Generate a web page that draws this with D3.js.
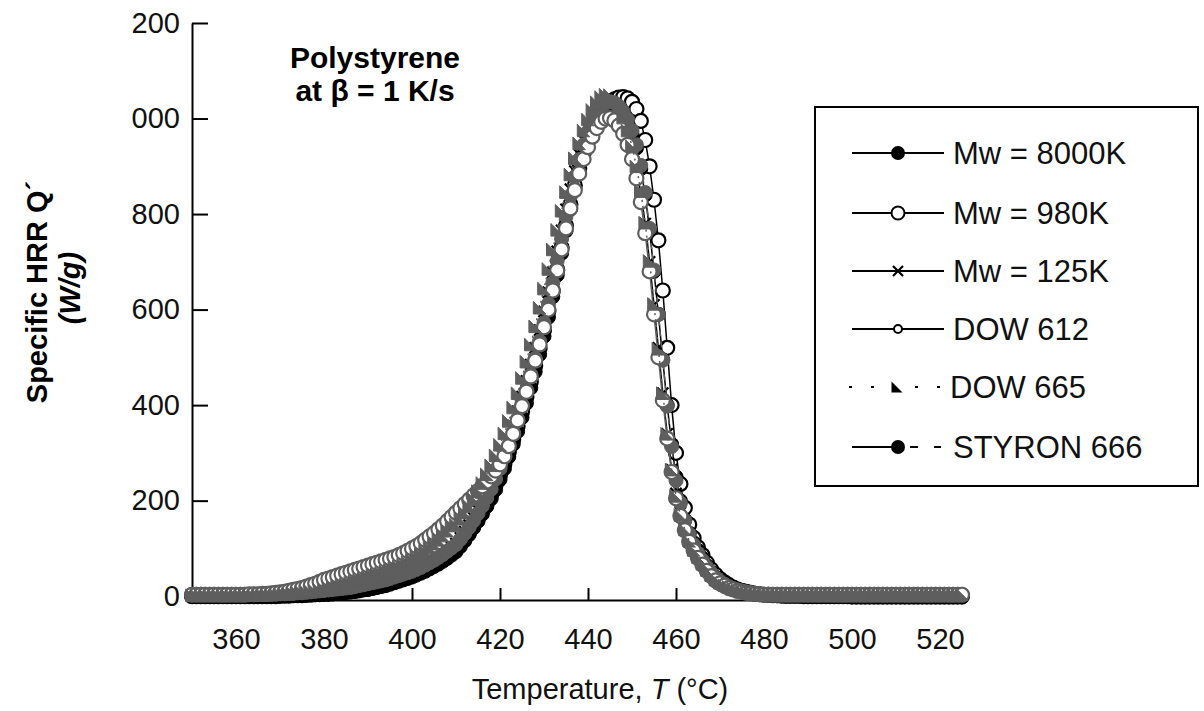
<!DOCTYPE html>
<html><head><meta charset="utf-8">
<script src="https://cdn.jsdelivr.net/npm/d3@7"></script>
<style>body{margin:0;background:#fff} svg{display:block} text{font-family:"Liberation Sans",Arial,Helvetica,sans-serif}</style>
</head><body><svg id="c" width="1204" height="711"></svg>
<script>
const temps = [
350,351,352,353,354,355,356,357,358,359,
360,361,362,363,364,365,366,367,368,369,
370,371,372,373,374,375,376,377,378,379,
380,381,382,383,384,385,386,387,388,389,
390,391,392,393,394,395,396,397,398,399,
400,401,402,403,404,405,406,407,408,409,
410,411,412,413,414,415,416,417,418,419,
420,421,422,423,424,425,426,427,428,429,
430,431,432,433,434,435,436,437,438,439,
440,441,442,443,444,445,446,447,448,449,
450,451,452,453,454,455,456,457,458,459,
460,461,462,463,464,465,466,467,468,469,
470,471,472,473,474,475,476,477,478,479,
480,481,482,483,484,485,486,487,488,489,
490,491,492,493,494,495,496,497,498,499,
500,501,502,503,504,505,506,507,508,509,
510,511,512,513,514,515,516,517,518,519,
520,521,522,523,524,525];

const qMw8000K = [
0,0,0,0,0,0,0,0,0,0,
0,0,0,0,0,0,0,0,0,0,
0,1,1,1,2,2,2,3,3,4,
4,5,5,6,7,8,9,10,11,13,
14,16,18,20,22,25,28,31,34,37,
40,44,48,52,57,62,67,73,79,86,
93,104,116,129,143,157,172,188,204,223,
244,267,292,318,345,374,404,436,470,506,
544,584,627,672,718,765,810,852,890,925,
955,980,1000,1013,1021,1025,1023,1017,1006,990,
968,938,895,840,765,680,590,495,400,318,
250,200,160,132,112,96,80,64,50,40,
32,26,21,17,14,11,9,7,5,4,
3,2,2,1,1,0,0,0,0,0,
0,0,0,0,0,0,0,0,0,0,
-2,-2,-2,-2,-2,-2,-2,-2,-2,-2,
-2,-2,-2,-2,-2,-2,-2,-2,-2,-2,
-2,-2,-2,-2,-2,-2];

const qMw980K = [
0,0,0,0,0,0,0,0,0,0,
0,0,0,0,0,0,0,0,0,0,
1,1,1,2,2,2,3,3,4,4,
5,5,6,7,8,9,10,11,13,15,
16,18,20,23,25,28,31,34,37,41,
44,48,52,57,62,67,73,79,86,93,
100,110,122,135,149,164,180,196,213,233,
254,277,302,328,356,386,417,449,483,519,
557,597,640,684,730,776,820,860,896,928,
955,978,997,1012,1024,1033,1040,1044,1045,1042,
1035,1020,995,955,900,830,745,640,520,400,
300,235,185,150,122,102,86,70,56,45,
36,29,23,18,14,11,9,7,5,4,
3,3,2,2,1,1,1,1,1,0,
0,0,0,0,0,0,0,0,0,0,
0,0,0,0,0,0,0,0,0,0,
0,0,0,0,0,0,0,0,0,0,
0,0,0,0,0,0];

const qMw125K = [
1,1,1,1,1,1,1,1,1,1,
1,1,1,1,1,1,1,2,2,2,
2,2,3,3,3,4,4,5,5,6,
6,7,8,9,10,11,12,14,15,17,
19,21,23,25,28,31,34,37,41,45,
49,53,58,63,68,74,80,87,94,102,
110,122,135,149,164,180,197,215,234,255,
278,303,329,357,387,418,451,485,520,557,
596,636,678,722,766,810,852,890,925,955,
980,1000,1015,1025,1030,1028,1020,1006,988,965,
935,895,845,780,700,610,520,425,340,265,
215,175,145,120,100,85,70,56,44,35,
28,23,18,15,12,10,8,6,5,4,
3,3,2,2,2,2,2,2,2,2,
2,2,2,2,2,2,2,2,2,2,
2,2,2,2,2,2,2,2,2,2,
2,2,2,2,2,2,2,2,2,2,
2,2,2,2,2,2];

const qDow612 = [
3,3,3,3,3,3,3,3,3,3,
3,3,3,4,4,4,5,5,6,7,
8,9,11,13,15,17,20,23,26,30,
34,37,40,43,46,49,52,55,58,61,
64,67,70,73,76,79,82,86,90,95,
100,105,111,118,125,132,140,148,157,166,
175,184,193,202,211,220,230,240,251,263,
276,293,314,340,368,398,428,460,493,527,
563,600,640,682,726,770,812,850,885,915,
940,962,980,993,1000,1001,996,985,968,945,
915,875,825,760,680,590,500,410,330,260,
205,168,138,114,96,80,66,53,42,33,
27,22,17,14,11,9,7,6,5,4,
3,3,3,3,3,3,3,3,3,3,
3,3,3,3,3,3,3,3,3,3,
3,3,3,3,3,3,3,3,3,3,
3,3,3,3,3,3,3,3,3,3,
3,3,3,3,3,3];

const qDow665 = [
2,2,2,2,2,2,2,2,2,2,
2,2,2,2,2,3,3,3,3,4,
4,5,5,6,7,8,9,10,11,13,
15,17,19,21,23,25,28,31,34,37,
40,43,46,49,52,55,58,62,66,71,
76,82,88,95,102,110,118,127,137,148,
150,162,175,189,204,220,237,255,274,295,
317,341,367,395,425,457,491,527,565,604,
644,685,726,767,807,846,883,917,948,975,
998,1018,1034,1045,1050,1049,1040,1024,1002,975,
942,900,848,782,702,612,518,425,340,265,
210,170,140,116,97,82,68,55,44,35,
28,23,19,16,13,11,9,8,7,6,
5,5,4,4,4,4,4,4,4,4,
4,4,4,4,4,4,4,4,4,4,
4,4,4,4,4,4,4,4,4,4,
4,4,4,4,4,4,4,4,4,4,
4,4,4,4,4,4];

const qStyron666 = [
4,4,4,4,4,4,4,4,4,4,
4,4,4,4,4,4,4,5,5,5,
5,5,6,6,7,7,8,9,10,11,
12,13,14,15,16,17,18,20,22,24,
26,28,30,32,34,37,40,43,46,49,
52,56,60,65,70,75,81,87,94,101,
108,119,131,144,158,173,189,206,224,245,
267,291,316,343,371,401,432,464,498,534,
572,612,656,702,748,795,838,878,914,945,
972,995,1012,1025,1032,1035,1033,1026,1014,998,
975,945,902,845,770,683,590,494,398,313,
242,195,158,130,108,90,75,61,49,39,
31,25,20,16,13,11,9,7,6,5,
4,4,4,4,4,4,4,4,4,4,
4,4,4,4,4,4,4,4,4,4,
4,4,4,4,4,4,4,4,4,4,
4,4,4,4,4,4,4,4,4,4,
4,4,4,4,4,4];

const seriesNames = ["Mw = 8000K","Mw = 980K","Mw = 125K","DOW 612","DOW 665","STYRON 666"];
const xTickValues = [360,380,400,420,440,460,480,500,520];
const yTickValues = [0,200,400,600,800,1000,1200];
const yTickLabels = ["0","200","400","600","800","000","200"];

const GRAY = "#5e5e5e";
const series = [
  {name: seriesNames[1], values: qMw980K, marker: "open", color: "#000", fill: "#fff", dash: null},
  {name: seriesNames[0], values: qMw8000K, marker: "circle", color: "#000", fill: "#000", dash: null},
  {name: seriesNames[2], values: qMw125K, marker: "x", color: "#000", fill: "none", dash: null},
  {name: seriesNames[5], values: qStyron666, marker: "circle", color: GRAY, fill: GRAY, dash: "6,5"},
  {name: seriesNames[3], values: qDow612, marker: "open", color: GRAY, fill: "#fff", dash: null},
  {name: seriesNames[4], values: qDow665, marker: "tri", color: GRAY, fill: GRAY, dash: "2,4"}
];

const svg = d3.select("#c");
const x = d3.scaleLinear().domain([350, 525]).range([192, 962]);
const y = d3.scaleLinear().domain([-8, 1200]).range([600, 23]);

const yAxis = d3.axisLeft(y).tickValues(yTickValues).tickFormat((d,i)=>yTickLabels[i])
  .tickSizeInner(-16).tickSizeOuter(0).tickPadding(12);
const gy = svg.append("g").attr("transform","translate(192,0)").call(yAxis);
const xAxis = d3.axisBottom(x).tickValues(xTickValues).tickFormat(d=>String(d))
  .tickSizeInner(-12).tickSizeOuter(0).tickPadding(28);
const gx = svg.append("g").attr("transform","translate(0,600)").call(xAxis);
[gx, gy].forEach(g=>{
  g.selectAll("path.domain").attr("stroke","#000").attr("stroke-width",2);
  g.selectAll(".tick line").attr("stroke","#000").attr("stroke-width",2);
  g.selectAll(".tick text").attr("fill","#111").style("font-size","29px").style("font-family","'Liberation Sans',Arial,sans-serif");
});

function markerPath(type, s){
  if(type==="x") return `M${-s},${-s}L${s},${s}M${-s},${s}L${s},${-s}`;
  if(type==="tri") return `M${-s},${-s}L${-s},${s}L${s},${s}Z`;
  return null;
}
function drawMarker(g, type, cx, cy, color, fill, r){
  if(type==="circle"){
    g.append("circle").attr("cx",cx).attr("cy",cy).attr("r",r).attr("fill",fill).attr("stroke",color).attr("stroke-width",1);
  } else if(type==="open"){
    g.append("circle").attr("cx",cx).attr("cy",cy).attr("r",r).attr("fill",fill).attr("stroke",color).attr("stroke-width",2.2);
  } else if(type==="x"){
    g.append("path").attr("transform",`translate(${cx},${cy})`).attr("d",markerPath("x", r*0.8)).attr("stroke",color).attr("stroke-width",2.2).attr("fill","none");
  } else if(type==="tri"){
    g.append("path").attr("transform",`translate(${cx},${cy})`).attr("d",markerPath("tri", r*0.9)).attr("fill",fill).attr("stroke",color).attr("stroke-width",1);
  }
}

const line = d3.line().x((d,i)=>x(temps[i])).y(d=>y(d));
series.forEach(s=>{
  const g = svg.append("g");
  g.append("path").datum(s.values).attr("d",line).attr("fill","none")
    .attr("stroke",s.color).attr("stroke-width",1.5).attr("stroke-dasharray",s.dash);
  s.values.forEach((v,i)=> drawMarker(g, s.marker, x(temps[i]), y(v), s.color, s.fill, 7));
});

const title = svg.append("text").attr("x",375).attr("text-anchor","middle")
  .style("font-weight","bold").style("font-size","30px").attr("fill","#000");
title.append("tspan").attr("x",375).attr("y",68).text("Polystyrene");
title.append("tspan").attr("x",375).attr("y",101).text("at β = 1 K/s");

const xl = svg.append("text").attr("x",600).attr("y",699).attr("text-anchor","middle")
  .style("font-size","29px").attr("fill","#111");
xl.append("tspan").text("Temperature, ");
xl.append("tspan").style("font-style","italic").text("T");
xl.append("tspan").text(" (°C)");

svg.append("text").attr("transform","translate(47,292) rotate(-90)").attr("text-anchor","middle")
  .style("font-weight","bold").style("font-size","29px").attr("fill","#000").text("Specific HRR Q´");
svg.append("text").attr("transform","translate(80,288) rotate(-90)").attr("text-anchor","middle")
  .style("font-weight","bold").style("font-style","italic").style("font-size","29px").attr("fill","#000").text("(W/g)");

const lg = svg.append("g");
lg.append("rect").attr("x",815).attr("y",107).attr("width",383).attr("height",379)
  .attr("fill","#fff").attr("stroke","#000").attr("stroke-width",2);
const legendY = [153,213,271,329,387,447];
const legendItems = [
  {name: seriesNames[0], marker:"circle"},
  {name: seriesNames[1], marker:"open"},
  {name: seriesNames[2], marker:"x"},
  {name: seriesNames[3], marker:"small"},
  {name: seriesNames[4], marker:"tri"},
  {name: seriesNames[5], marker:"circle"}
];
legendItems.forEach((it,i)=>{
  const cy = legendY[i];
  if(i===4){
    lg.append("line").attr("x1",849).attr("x2",942).attr("y1",cy).attr("y2",cy)
      .attr("stroke","#000").attr("stroke-width",2).attr("stroke-dasharray","3,19");
    lg.append("path").attr("transform",`translate(897,${cy})`).attr("d",markerPath("tri",5.5)).attr("fill","#000");
  } else if(i===5){
    lg.append("line").attr("x1",852).attr("x2",898).attr("y1",cy).attr("y2",cy).attr("stroke","#000").attr("stroke-width",2);
    lg.append("line").attr("x1",898).attr("x2",944).attr("y1",cy).attr("y2",cy).attr("stroke","#000").attr("stroke-width",2).attr("stroke-dasharray","0,12,8,16,7,10");
    lg.append("circle").attr("cx",898).attr("cy",cy).attr("r",7).attr("fill","#000");
  } else {
    lg.append("line").attr("x1",852).attr("x2",944).attr("y1",cy).attr("y2",cy).attr("stroke","#000").attr("stroke-width",2);
    if(it.marker==="circle") lg.append("circle").attr("cx",898).attr("cy",cy).attr("r",7).attr("fill","#000");
    if(it.marker==="open") lg.append("circle").attr("cx",898).attr("cy",cy).attr("r",6.5).attr("fill","#fff").attr("stroke","#000").attr("stroke-width",2);
    if(it.marker==="x") lg.append("path").attr("transform",`translate(898,${cy})`).attr("d",markerPath("x",5)).attr("stroke","#000").attr("stroke-width",2.2);
    if(it.marker==="small") lg.append("circle").attr("cx",898).attr("cy",cy).attr("r",4).attr("fill","#fff").attr("stroke","#000").attr("stroke-width",2);
  }
  lg.append("text").attr("x", i===4 ? 950 : 953).attr("y",cy).attr("dy","0.36em")
    .style("font-size","31px").attr("fill","#111").text(it.name);
});
</script></body></html>
